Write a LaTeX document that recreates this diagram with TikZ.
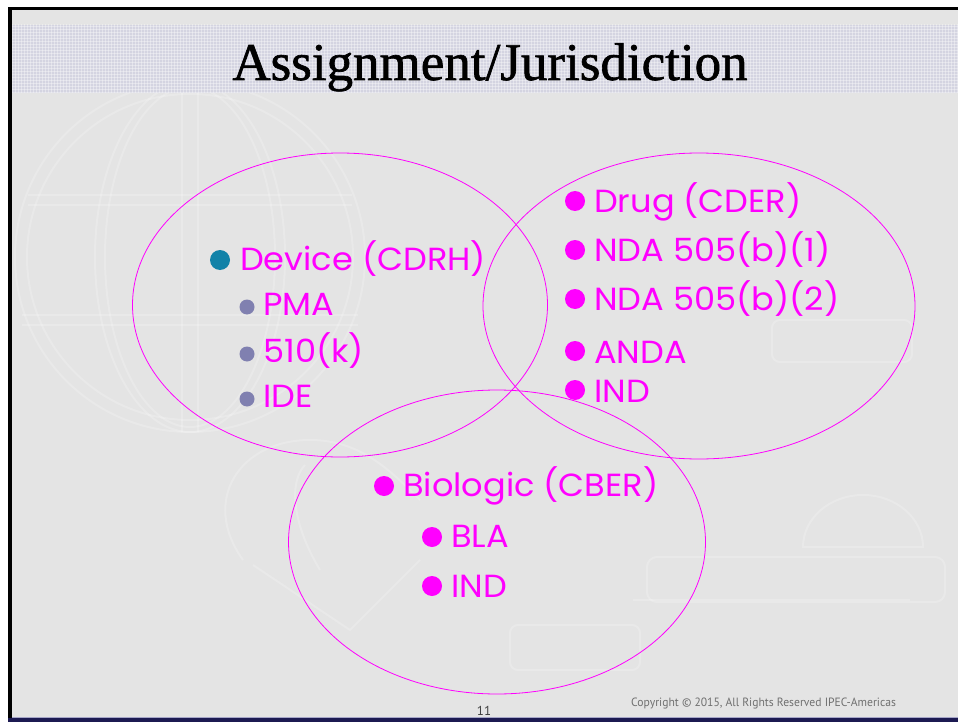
\documentclass[tikz,border=0pt]{standalone}
\usepackage{fontspec}
\setmainfont{Liberation Serif}
\newfontfamily\titlefont[FakeBold=1.2]{Liberation Serif}
\newfontfamily\bodyfont{Poppins}
\newfontfamily\footfont{PT Sans}
\usetikzlibrary{shapes.geometric,patterns}
\definecolor{mag}{HTML}{FF00FF}
\definecolor{bg}{HTML}{E4E4E4}
\definecolor{band}{HTML}{D4D4E1}
\definecolor{teal}{HTML}{1182A8}
\definecolor{subgrey}{HTML}{8080B0}
\definecolor{navy}{HTML}{1C1A52}
\definecolor{foot}{HTML}{707070}
\tikzset{
  item/.style={anchor=base west, inner sep=0pt, text=mag, xscale=1.05, font=\bodyfont\fontsize{32}{38}\selectfont},
  bigdot/.style={circle, fill=#1, inner sep=0pt, minimum size=20pt},
  smalldot/.style={circle, fill=subgrey, inner sep=0pt, minimum size=15pt},
  venn/.style={ellipse, draw=mag, line width=0.8pt, inner sep=0pt},
  wm/.style={draw=white, line width=2pt, opacity=0.2},
}
\begin{document}
\begin{tikzpicture}[x=1pt,y=-1pt]
\useasboundingbox (0,0) rectangle (958,722);
% page
\fill[white] (0,0) rectangle (958,722);
\fill[bg] (10,8) rectangle (958,718);
% faint watermark: globe
\begin{scope}
\clip (12,10) rectangle (958,716);
\draw[wm] (190,257) circle (175);
\draw[wm] (190,257) circle (163);
\draw[wm] (190,257) ellipse[x radius=95, y radius=175];
\draw[wm] (190,257) ellipse[x radius=85, y radius=170];
\draw[wm] (28,195) -- (352,195);
\draw[wm] (28,205) -- (352,205);
\draw[wm] (22,315) -- (358,315);
\draw[wm] (22,325) -- (358,325);
\draw[wm] (182,82) -- (182,432);
\draw[wm] (198,82) -- (198,432);
% horn shapes
\draw[wm] (243,560) .. controls (200,500) and (240,440) .. (310,440) .. controls (360,440) and (390,470) .. (420,500);
\draw[wm] (320,570) .. controls (290,520) and (290,480) .. (305,465);
\draw[wm] (253,565) -- (350,630) -- (420,560);
% right shapes
\draw[wm, rounded corners=8pt] (772,320) rectangle (912,362);
\draw[wm] (803,547) arc[start angle=180, end angle=360, x radius=60, y radius=52] -- cycle;
\draw[wm, rounded corners=10pt] (647,557) rectangle (945,602);
\draw[wm, rounded corners=8pt] (510,625) rectangle (640,670);
\draw[wm] (633,600) -- (910,600);
\end{scope}
% title band
\fill[band] (10,25) rectangle (958,93);
\fill[pattern=grid, pattern color=white, opacity=0.35] (10,25) rectangle (958,93);
% border
\fill[black] (8,7) rectangle (958,10);
\fill[black] (8,7) rectangle (12,718);
\fill[navy] (8,718) rectangle (958,722);
\fill[subgrey!70] (12,716.5) rectangle (958,718);
% title
\node[anchor=base, inner sep=0pt, font=\titlefont\fontsize{53}{60}\selectfont] (title) at (490,80) {Assignment/Jurisdiction};
% ellipses
\node[venn, minimum width=415pt, minimum height=304pt] (dev) at (340,305) {};
\node[venn, minimum width=432pt, minimum height=306pt] (drug) at (699,306) {};
\node[venn, minimum width=417pt, minimum height=304pt] (bio) at (497,542) {};
% device
\node[bigdot=teal] (d0) at (220,260) {};
\node[item] (t0) at (240,270) {Device (CDRH)};
\node[smalldot] (d1) at (247,307) {};
\node[item] (t1) at (263,315) {PMA};
\node[smalldot] (d2) at (247,354) {};
\node[item] (t2) at (263,362) {510(k)};
\node[smalldot] (d3) at (247,399) {};
\node[item] (t3) at (263,407) {IDE};
% drug
\node[bigdot=mag] (e0) at (575,201) {};
\node[item] (u0) at (594,212) {Drug (CDER)};
\node[bigdot=mag] (e1) at (575,250) {};
\node[item] (u1) at (594,261) {NDA 505(b)(1)};
\node[bigdot=mag] (e2) at (575,299) {};
\node[item] (u2) at (594,310) {NDA 505(b)(2)};
\node[bigdot=mag] (e3) at (575,351) {};
\node[item] (u3) at (594,363) {ANDA};
\node[bigdot=mag] (e4) at (575,390) {};
\node[item] (u4) at (594,402) {IND};
% biologic
\node[bigdot=mag] (b0) at (384,486) {};
\node[item] (v0) at (403,496) {Biologic (CBER)};
\node[bigdot=mag] (b1) at (432,537) {};
\node[item] (v1) at (451,547) {BLA};
\node[bigdot=mag] (b2) at (432,586) {};
\node[item] (v2) at (451,597) {IND};
% footer
\node[anchor=base, inner sep=0pt, text=black!75, font=\footfont\fontsize{13}{15}\selectfont] (pg) at (484,715) {11};
\node[anchor=base west, inner sep=0pt, text=foot, xscale=0.97, font=\footfont\fontsize{12}{14}\selectfont] (copy) at (631,706) {Copyright © 2015, All Rights Reserved IPEC-Americas};
\end{tikzpicture}
\end{document}
